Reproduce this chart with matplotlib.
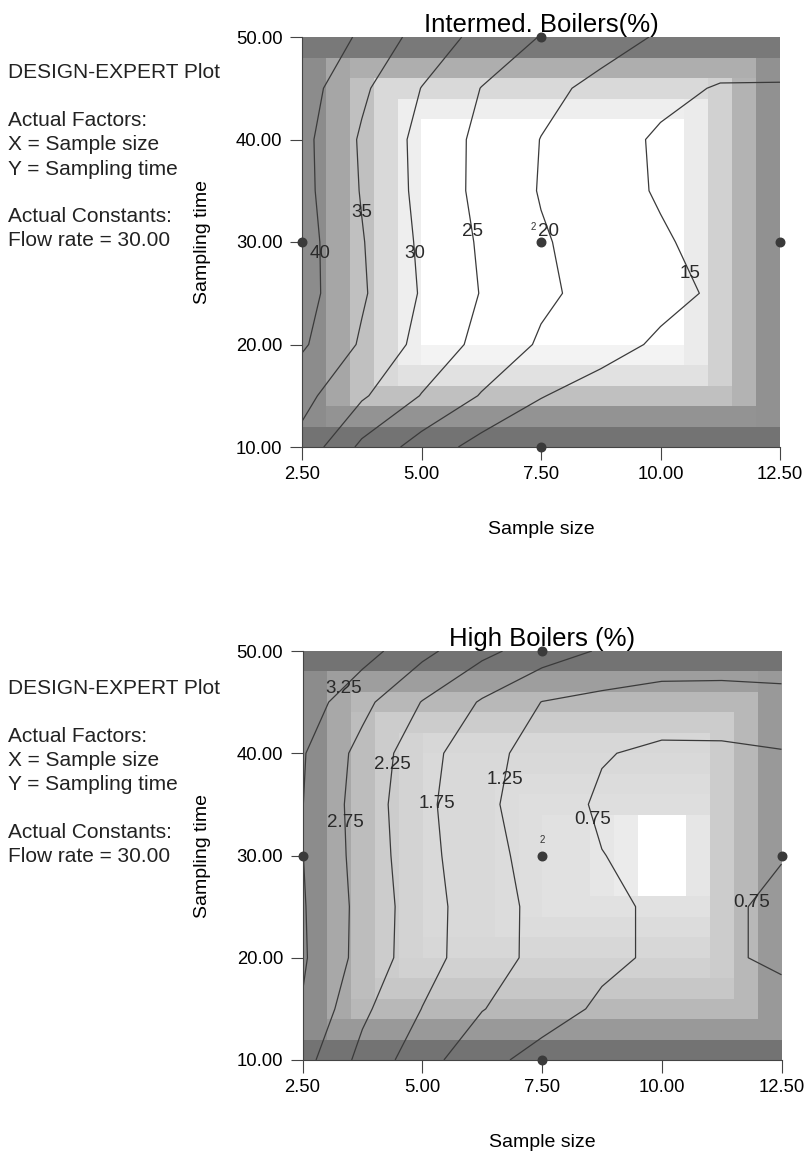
import numpy as np
import matplotlib
matplotlib.use("Agg")
import matplotlib.pyplot as plt

plt.rcParams['font.family'] = 'Liberation Sans'

# factor grid (Sample size on x, Sampling time on y)
sample_size = [2.5, 3.75, 5.0, 6.25, 7.5, 8.75, 10.0, 11.25, 12.5]
sampling_time = [10, 15, 20, 25, 30, 35, 40, 45, 50]

# Intermed. Boilers (%), one row per sampling time
intermed = [
    [33.5, 23.9, 17.9, 13.2, 11.5, 10.5, 10.0, 10.0, 10.0],
    [36.5, 30.7, 24.8, 19.7, 15.2, 13.0, 12.0, 11.5, 11.5],
    [40.7, 34.4, 28.5, 23.6, 19.4, 16.8, 14.3, 13.5, 13.0],
    [42.0, 35.6, 29.6, 24.8, 20.9, 18.4, 16.3, 14.3, 13.5],
    [42.0, 35.3, 29.2, 24.4, 20.5, 17.9, 15.6, 13.2, 12.5],
    [41.5, 34.7, 28.7, 23.7, 19.7, 17.1, 14.5, 13.5, 13.0],
    [41.4, 34.4, 28.6, 23.8, 19.9, 17.1, 14.3, 13.2, 12.8],
    [42.3, 35.9, 29.9, 24.9, 21.4, 18.7, 16.4, 14.6, 14.6],
    [45.0, 39.1, 33.1, 28.5, 24.8, 22.1, 19.5, 18.5, 18.0],
]
intermed_levels = [15, 20, 25, 30, 35, 40]

# High Boilers (%)
high = [
    [2.94, 2.10, 1.46, 0.88, 0.60, 0.55, 0.50, 0.50, 0.55],
    [3.22, 2.35, 1.74, 1.27, 0.94, 0.68, 0.60, 0.60, 0.65],
    [3.31, 2.58, 1.95, 1.46, 1.12, 0.84, 0.68, 0.71, 0.80],
    [3.29, 2.60, 1.96, 1.47, 1.12, 0.84, 0.68, 0.71, 0.80],
    [3.26, 2.56, 1.91, 1.42, 1.06, 0.76, 0.62, 0.66, 0.74],
    [3.26, 2.53, 1.88, 1.36, 0.99, 0.68, 0.60, 0.62, 0.68],
    [3.29, 2.59, 1.94, 1.41, 1.06, 0.78, 0.66, 0.66, 0.72],
    [3.53, 2.89, 2.23, 1.70, 1.24, 1.12, 1.01, 1.03, 1.11],
    [4.00, 3.45, 2.89, 2.38, 2.00, 1.70, 1.60, 1.55, 1.50],
]
high_levels = [0.75, 1.25, 1.75, 2.25, 2.75, 3.25]

# background shading (brightness of 20 blocks across x and 20 blocks up y)
top_shade_x = [0.55, 0.65, 0.75, 0.85, 0.93, 1, 1, 1, 1, 1,
               1, 1, 1, 1, 1, 1, 0.92, 0.82, 0.7, 0.57]
top_shade_y = [0.45, 0.58, 0.75, 0.88, 0.95, 1, 1, 1, 1, 1,
               1, 1, 1, 1, 1, 1, 0.93, 0.85, 0.68, 0.48]
bot_shade_x = [0.55, 0.66, 0.74, 0.8, 0.83, 0.85, 0.85, 0.85, 0.86, 0.87,
               0.88, 0.88, 0.9, 0.92, 1.0, 1.0, 0.9, 0.8, 0.72, 0.6]
bot_shade_y = [0.45, 0.6, 0.72, 0.78, 0.82, 0.84, 0.86, 0.88, 1.0, 1.0,
               1.0, 1.0, 0.87, 0.86, 0.85, 0.84, 0.8, 0.72, 0.62, 0.45]

# design points
pts_x = [2.5, 7.5, 7.5, 7.5, 12.5]
pts_y = [30, 50, 30, 10, 30]

x_ticks = [2.5, 5.0, 7.5, 10.0, 12.5]
y_ticks = [10, 20, 30, 40, 50]

side_text = ["DESIGN-EXPERT Plot", "", "Actual Factors:", "X = Sample size",
             "Y = Sampling time", "", "Actual Constants:", "Flow rate = 30.00"]


def draw(ax, z, levels, fmt, title, shade_x, shade_y, label_pos, rep_x):
    shade = np.minimum(np.array(shade_y)[:, None], np.array(shade_x)[None, :])
    ax.imshow(shade, cmap='gray', vmin=0, vmax=1, origin='lower',
              extent=[2.5, 12.5, 10, 50], aspect='auto', interpolation='nearest')
    cs = ax.contour(sample_size, sampling_time, z, levels=levels,
                    colors='#3a3a3a', linewidths=0.9)
    labels = ax.clabel(cs, inline=False, fontsize=13.5, fmt=fmt, colors='#2a2a2a',
                       manual=label_pos)
    for t in labels:
        t.set_rotation(0)
    ax.scatter(pts_x, pts_y, s=38, color='#3a3a3a', zorder=5, clip_on=False)
    # replicate count at the centre point
    ax.text(rep_x, 31.0, "2", fontsize=7, ha='center', va='bottom', color='#333333')
    ax.set_xlim(2.5, 12.5)
    ax.set_ylim(10, 50)
    ax.set_xticks(x_ticks)
    ax.set_xticklabels([f"{v:.2f}" for v in x_ticks])
    ax.set_yticks(y_ticks)
    ax.set_yticklabels([f"{v:.2f}" for v in y_ticks])
    ax.tick_params(labelsize=13.3, length=9, width=0.8, color='#444444', pad=5)
    for s in ['top', 'right']:
        ax.spines[s].set_visible(False)
    for s in ['left', 'bottom']:
        ax.spines[s].set_color('#444444')
        ax.spines[s].set_linewidth(0.8)
    ax.set_xlabel("Sample size", fontsize=14, labelpad=27)
    ax.set_ylabel("Sampling time", fontsize=14, labelpad=18)
    ax.set_title(title, fontsize=18.5, pad=0)


fig = plt.figure(figsize=(8.08, 11.53), dpi=100)

ax1 = fig.add_axes([302 / 808, 1 - 447 / 1153, 478 / 808, 410 / 1153])
draw(ax1, intermed, intermed_levels, '%d', "Intermed. Boilers(%)",
     top_shade_x, top_shade_y,
     [(2.88, 28.9), (3.71, 32.9), (4.9, 28.9), (6.08, 31.0), (7.75, 31.2), (10.8, 27.3)],
     7.33)

ax2 = fig.add_axes([302.5 / 808, 1 - 1060 / 1153, 479 / 808, 409 / 1153])
draw(ax2, high, high_levels, '%.2f', "High Boilers (%)",
     bot_shade_x, bot_shade_y,
     [(3.22, 47.0), (3.28, 33.2), (4.18, 39.0), (5.2, 35.2), (6.48, 37.6),
      (8.55, 33.5), (11.84, 25.6)],
     7.5)

for top_px in [73, 688]:
    for i, line in enumerate(side_text):
        fig.text(8 / 808, 1 - (top_px + i * 24) / 1153, line, fontsize=15,
                 va='center', ha='left', color='#222222')

fig.savefig("out.png", dpi=100)
